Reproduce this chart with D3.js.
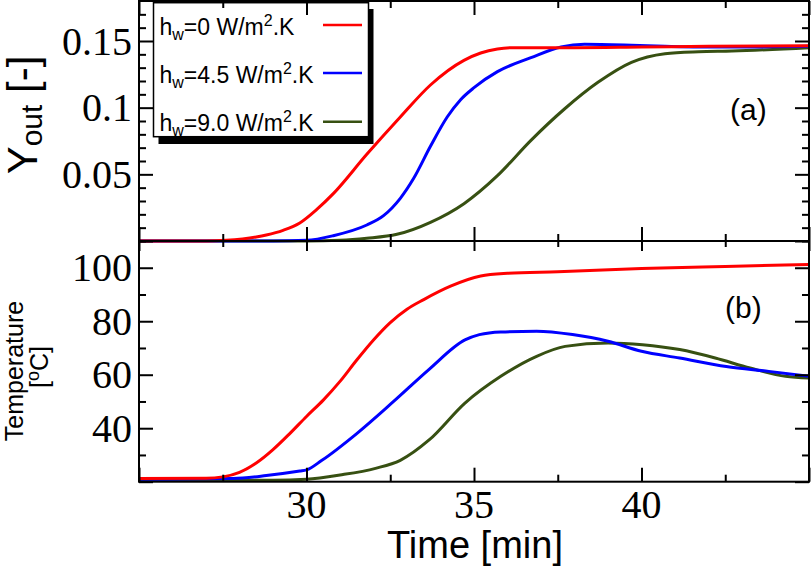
<!DOCTYPE html>
<html>
<head>
<meta charset="utf-8">
<script src="https://cdn.jsdelivr.net/npm/d3@7/dist/d3.min.js"></script>
<style>
  html, body { margin: 0; padding: 0; background: #fff; }
  svg { display: block; }
</style>
</head>
<body>
<svg id="chart" width="812" height="567"></svg>
<script>
// ---------- DATA ----------
const legendLabels = ["0", "4.5", "9.0"];
const colors = ["#ff0000", "#0000ff", "#375012"];

// Panel (a): Y_out vs time
const timeRedA   = [25, 26, 27, 27.6, 28.5, 28.8, 29.3, 29.8, 30.3, 30.8, 31.8, 32.8, 33.7, 34.7, 35.2, 35.7, 36.2, 38, 40, 42, 45];
const youtRedA   = [0, 0, 0, 0.0005, 0.003, 0.0045, 0.008, 0.0135, 0.0235, 0.0355, 0.065, 0.093, 0.117, 0.1355, 0.141, 0.144, 0.145, 0.145, 0.1455, 0.146, 0.1465];
const timeBlueA  = [25, 29, 30, 30.8, 31.8, 32.3, 32.8, 33.2, 33.7, 34.2, 34.6, 35.0, 35.7, 36.7, 37.6, 38.3, 39.7, 40.7, 41.7, 43, 45];
const youtBlueA  = [0, 0, 0.0005, 0.004, 0.012, 0.019, 0.032, 0.047, 0.071, 0.093, 0.106, 0.115, 0.127, 0.1375, 0.1455, 0.1475, 0.1468, 0.146, 0.1455, 0.1455, 0.146];
const timeGreenA = [25, 30, 31, 31.8, 32.7, 33.7, 34.7, 35.7, 36.7, 37.7, 38.7, 39.7, 40.7, 41.7, 42.7, 45];
const youtGreenA = [0, 0, 0.0005, 0.002, 0.005, 0.014, 0.028, 0.049, 0.0755, 0.099, 0.119, 0.134, 0.1405, 0.142, 0.1425, 0.145];

// Panel (b): Temperature vs time
const timeRedB   = [25, 27, 27.5, 28, 28.5, 29, 29.5, 30, 30.5, 31, 31.5, 32, 32.5, 33, 33.5, 34.3, 35.2, 36, 37.5, 40, 42.5, 45];
const tempRedB   = [21.2, 21.3, 21.8, 23.5, 27, 32, 38, 44.4, 50.5, 57.5, 65.5, 73, 79.5, 84.5, 88.1, 93.1, 96.9, 97.9, 98.5, 99.7, 100.5, 101.2];
const timeBlueB  = [25, 27.8, 28.8, 29.8, 30, 30.46, 31.5, 32.6, 33.66, 34.73, 35.16, 35.8, 36.87, 37.94, 39.0, 40.0, 41.14, 42.53, 43.8, 45];
const tempBlueB  = [20.9, 21.2, 22.3, 24, 24.4, 28, 38, 50, 62, 73, 75, 76, 76.25, 75, 72.5, 68.75, 66.25, 63.1, 61.25, 59.4];
const timeGreenB = [25, 29, 30, 31, 32.06, 32.8, 33.66, 34.73, 35.8, 36.87, 37.72, 39, 40.03, 41.14, 42.2, 43.24, 44.3, 45];
const tempGreenB = [20.5, 20.5, 20.9, 22.5, 25, 28, 35.6, 49.4, 59.4, 66.9, 70.6, 71.9, 71.25, 69.4, 66.25, 62.5, 59.4, 58.75];

// Ticks
const xMajorTicks = [25, 30, 35, 40, 45];
const xMinorTicks = [27.5, 32.5, 37.5, 42.5];
const xTickLabels = [30, 35, 40];
const yAMajorTicks = [0, 0.05, 0.1, 0.15];
const yAMinorTicks = [0.01, 0.02, 0.03, 0.04, 0.06, 0.07, 0.08, 0.09, 0.11, 0.12, 0.13, 0.14, 0.16, 0.17];
const yATickLabels = ["0.05", "0.1", "0.15"];
const yBMajorTicks = [20, 40, 60, 80, 100];
const yBMinorTicks = [30, 50, 70, 90, 110];
const yBTickLabels = [40, 60, 80, 100];

// ---------- LAYOUT ----------
const svg = d3.select("#chart");
const L = 139, R = 809;
const aTop = 1, aBot = 241, bTop = 241, bBot = 481.7;

const x = d3.scaleLinear().domain([25, 45]).range([L, R]);
const yA = d3.scaleLinear().domain([0, 0.18]).range([aBot, aTop]);
const yB = d3.scaleLinear().domain([20, 110]).range([bBot, bTop]);

const serif = "'Liberation Serif', 'Times New Roman', serif";
const sans = "'Liberation Sans', Arial, Helvetica, sans-serif";

// ---------- LEGEND (drawn beneath axes ticks) ----------
const lg = svg.append("g");
lg.append("rect").attr("x", 158.5).attr("y", 9).attr("width", 215).attr("height", 135).attr("fill", "#000");
lg.append("rect").attr("x", 153.5).attr("y", 2.7).attr("width", 215).attr("height", 134).attr("fill", "#fff")
  .attr("stroke", "#000").attr("stroke-width", 1.5);
const legBase = [35, 82.7, 130.7];
const legLineY = [25, 73, 121.7];
legendLabels.forEach((lab, i) => {
  const t = lg.append("text").attr("x", 159.5).attr("y", legBase[i])
    .attr("font-family", sans).attr("font-size", 23).attr("fill", "#000");
  t.append("tspan").text("h");
  t.append("tspan").attr("font-size", 16).attr("dy", 5).text("w");
  t.append("tspan").attr("dy", -5).text("=" + lab + " W/m");
  t.append("tspan").attr("font-size", 16).attr("dy", -9).text("2");
  t.append("tspan").attr("dy", 9).text(".K");
  lg.append("line").attr("x1", 323).attr("x2", 362).attr("y1", legLineY[i]).attr("y2", legLineY[i])
    .attr("stroke", colors[i]).attr("stroke-width", 2.5);
});

// ---------- CURVES ----------
const lineA = d3.line().x(d => x(d[0])).y(d => yA(d[1])).curve(d3.curveMonotoneX);
const lineB = d3.line().x(d => x(d[0])).y(d => yB(d[1])).curve(d3.curveMonotoneX);
const zip = (a, b) => a.map((v, i) => [v, b[i]]);

const seriesA = [zip(timeRedA, youtRedA), zip(timeBlueA, youtBlueA), zip(timeGreenA, youtGreenA)];
const seriesB = [zip(timeRedB, tempRedB), zip(timeBlueB, tempBlueB), zip(timeGreenB, tempGreenB)];

[2, 1, 0].forEach(i => {
  svg.append("path").attr("d", lineA(seriesA[i])).attr("fill", "none")
    .attr("stroke", colors[i]).attr("stroke-width", 3).attr("stroke-linejoin", "round");
  svg.append("path").attr("d", lineB(seriesB[i])).attr("fill", "none")
    .attr("stroke", colors[i]).attr("stroke-width", 3).attr("stroke-linejoin", "round");
});

// ---------- AXES ----------
function ticks(axisGen, scale, vals, size, transform) {
  const g = svg.append("g").attr("transform", transform)
    .call(axisGen(scale).tickValues(vals).tickSize(-size).tickFormat(""));
  g.select(".domain").remove();
  g.selectAll(".tick line").attr("stroke", "#000").attr("stroke-width", 2);
  return g;
}
// panel a
ticks(d3.axisLeft, yA, yAMajorTicks, 14, `translate(${L},0)`);
ticks(d3.axisLeft, yA, yAMinorTicks, 7, `translate(${L},0)`);
ticks(d3.axisRight, yA, yAMajorTicks, 14, `translate(${R},0)`);
ticks(d3.axisRight, yA, yAMinorTicks, 7, `translate(${R},0)`);
ticks(d3.axisTop, x, xMajorTicks, 14, `translate(0,${aTop})`);
ticks(d3.axisTop, x, xMinorTicks, 7, `translate(0,${aTop})`);
ticks(d3.axisBottom, x, xMajorTicks, 14, `translate(0,${aBot})`);
ticks(d3.axisBottom, x, xMinorTicks, 7, `translate(0,${aBot})`);
// panel b
ticks(d3.axisLeft, yB, yBMajorTicks, 14, `translate(${L},0)`);
ticks(d3.axisLeft, yB, yBMinorTicks, 7, `translate(${L},0)`);
ticks(d3.axisRight, yB, yBMajorTicks, 14, `translate(${R},0)`);
ticks(d3.axisRight, yB, yBMinorTicks, 7, `translate(${R},0)`);
ticks(d3.axisTop, x, xMajorTicks, 10, `translate(0,${bTop})`);
ticks(d3.axisTop, x, xMinorTicks, 6, `translate(0,${bTop})`);
ticks(d3.axisBottom, x, xMajorTicks, 14, `translate(0,${bBot})`);
ticks(d3.axisBottom, x, xMinorTicks, 7, `translate(0,${bBot})`);

// frames
[[aTop, aBot], [bTop, bBot]].forEach(([t, b]) => {
  svg.append("rect").attr("x", L).attr("y", t).attr("width", R - L).attr("height", b - t)
    .attr("fill", "none").attr("stroke", "#000").attr("stroke-width", 2);
});

// tick labels
svg.append("g").selectAll("text").data(yATickLabels).join("text")
  .attr("x", L - 7).attr("y", d => yA(+d) + 13.5).attr("text-anchor", "end")
  .attr("font-family", serif).attr("font-size", 40).text(d => d);
svg.append("g").selectAll("text").data(yBTickLabels).join("text")
  .attr("x", L - 7).attr("y", d => yB(d) + 13.5).attr("text-anchor", "end")
  .attr("font-family", serif).attr("font-size", 40).text(d => d);
svg.append("g").selectAll("text").data(xTickLabels).join("text")
  .attr("x", d => x(d)).attr("y", 518).attr("text-anchor", "middle")
  .attr("font-family", serif).attr("font-size", 40).text(d => d);

// panel tags
svg.append("text").attr("x", 730).attr("y", 120).attr("font-family", sans).attr("font-size", 30).text("(a)");
svg.append("text").attr("x", 725).attr("y", 318).attr("font-family", sans).attr("font-size", 30).text("(b)");

// axis titles
svg.append("text").attr("x", 475).attr("y", 558).attr("text-anchor", "middle")
  .attr("font-family", sans).attr("font-size", 38).text("Time [min]");

const yt = svg.append("text").attr("transform", "translate(37,115) rotate(-90)")
  .attr("text-anchor", "middle").attr("font-family", sans).attr("font-size", 42);
yt.append("tspan").text("Y");
yt.append("tspan").attr("font-size", 30).attr("dy", 5).text("out");
yt.append("tspan").attr("dy", -5).text(" [-]");

svg.append("text").attr("transform", "translate(23,371) rotate(-90)")
  .attr("text-anchor", "middle").attr("font-family", sans).attr("font-size", 25).text("Temperature");
const tc = svg.append("text").attr("transform", "translate(48,367) rotate(-90)")
  .attr("text-anchor", "middle").attr("font-family", sans).attr("font-size", 25);
tc.append("tspan").text("[");
tc.append("tspan").attr("font-size", 18).attr("dy", -9).text("o");
tc.append("tspan").attr("dy", 9).text("C]");
</script>
</body>
</html>
